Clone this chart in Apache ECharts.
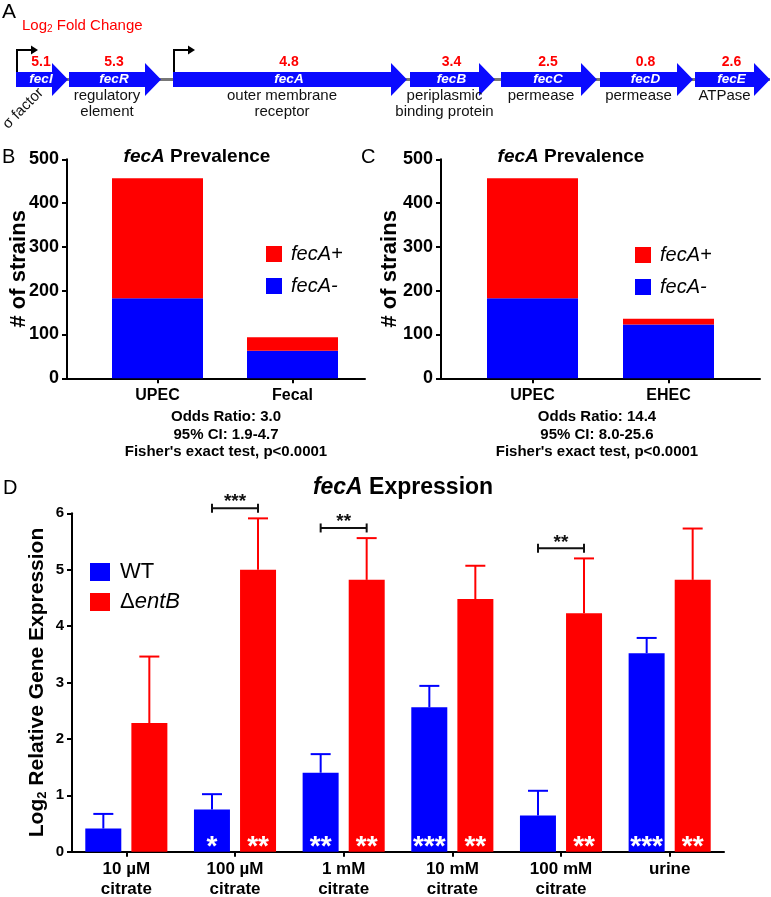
<!DOCTYPE html>
<html><head><meta charset="utf-8">
<script src="https://cdn.jsdelivr.net/npm/echarts@6/dist/echarts.min.js"></script>
<style>html,body{margin:0;padding:0;background:#fff}#c{width:771px;height:897px}</style>
</head><body><div id="c"></div>
<script>
// ---------- Panel A : fec operon ----------
const geneNames = ['fecI','fecR','fecA','fecB','fecC','fecD','fecE'];
const geneLog2FoldChange = [5.1, 5.3, 4.8, 3.4, 2.5, 0.8, 2.6];
const geneFunctions = ['σ factor','regulatory\nelement','outer membrane\nreceptor','periplasmic\nbinding protein','permease','permease','ATPase'];
const geneStartBp = [160, 690, 1730, 4100, 5010, 6000, 6950];
const geneEndBp   = [680, 1610, 4070, 4950, 5970, 6930, 7700];
const promoterBp = [160, 1730];

// ---------- Panel B / C : prevalence ----------
const prevCategoriesB = ['UPEC','Fecal'];
const fecANegB = [183, 63];
const fecAPosB = [274, 31];
const prevCategoriesC = ['UPEC','EHEC'];
const fecANegC = [183, 123];
const fecAPosC = [274, 13];
const prevTicks = [0, 100, 200, 300, 400, 500];
const statsB = ['Odds Ratio: 3.0', '95% CI: 1.9-4.7', "Fisher's exact test, p<0.0001"];
const statsC = ['Odds Ratio: 14.4', '95% CI: 8.0-25.6', "Fisher's exact test, p<0.0001"];

// ---------- Panel D : fecA expression ----------
const exprCategories = ['10 µM\ncitrate','100 µM\ncitrate','1 mM\ncitrate','10 mM\ncitrate','100 mM\ncitrate','urine'];
const wtMean   = [0.41, 0.75, 1.40, 2.56, 0.64, 3.52];
const wtSD     = [0.26, 0.27, 0.33, 0.38, 0.44, 0.27];
const entBMean = [2.28, 5.00, 4.82, 4.48, 4.23, 4.82];
const entBSD   = [1.18, 0.91, 0.74, 0.59, 0.97, 0.91];
const wtStars   = ['', '*', '**', '***', '', '***'];
const entBStars = ['', '**', '**', '**', '**', '**'];
const bracketCategories = [1, 2, 4];
const bracketStars = ['***', '**', '**'];
const exprTicks = [0, 1, 2, 3, 4, 5, 6];

const FF = "'Liberation Sans', Arial, sans-serif";
const BLUE = '#0000ff', RED = '#ff0000', ARROW = '#0a0aff';
const f = (w, s, st) => (st ? st + ' ' : '') + w + ' ' + s + 'px ' + FF;

const chart = echarts.init(document.getElementById('c'), null, {renderer: 'canvas'});

function geneRender(params, api) {
  const i = params.dataIndex;
  const s = api.coord([api.value(0), 0.5]);
  const e = api.coord([api.value(1), 0.5]);
  const cy = s[1], x0 = s[0], x1 = e[0];
  const hl = 16, bh = 7.5, hh = 16.5, xb = x1 - hl;
  const ch = [
    {type: 'polygon', shape: {points: [[x0, cy - bh], [xb, cy - bh], [xb, cy - hh], [x1, cy], [xb, cy + hh], [xb, cy + bh], [x0, cy + bh]]}, style: {fill: ARROW}},
    {type: 'text', x: (x0 + x1) / 2 - 1, y: cy, style: {text: geneNames[i], fill: '#fff', font: f('bold', 13.5, 'italic'), align: 'center', verticalAlign: 'middle', textAlign: 'center', textVerticalAlign: 'middle'}},
    {type: 'text', x: (x0 + x1) / 2 - 1, y: cy - 17.5, style: {text: geneLog2FoldChange[i].toFixed(1), fill: RED, font: f('bold', 14), align: 'center', verticalAlign: 'middle', textAlign: 'center', textVerticalAlign: 'middle'}}
  ];
  if (i === 0) {
    ch.push({type: 'text', x: x0 + 7, y: cy + 29, rotation: Math.PI / 4, style: {text: geneFunctions[i], fill: '#111', font: f('normal', 15), align: 'center', verticalAlign: 'middle', textAlign: 'center', textVerticalAlign: 'middle'}});
  } else {
    ch.push({type: 'text', x: (x0 + xb) / 2, y: cy + 8, style: {text: geneFunctions[i], fill: '#111', font: f('normal', 15), lineHeight: 16.5, align: 'center', verticalAlign: 'top', textAlign: 'center', textVerticalAlign: 'top'}});
  }
  return {type: 'group', children: ch};
}

function promoterRender(params, api) {
  const p = api.coord([api.value(0), 0.5]);
  const x = p[0] + 1, yb = p[1] - 7.5, yt = p[1] - 29.5;
  return {type: 'group', children: [
    {type: 'polyline', shape: {points: [[x, yb], [x, yt], [x + 15, yt]]}, style: {stroke: '#000', lineWidth: 2, fill: null}},
    {type: 'polygon', shape: {points: [[x + 14, yt - 4.5], [x + 21, yt], [x + 14, yt + 4.5]]}, style: {fill: '#000'}}
  ]};
}

function backboneRender(params, api) {
  const s = api.coord([api.value(0), 0.5]);
  const e = api.coord([api.value(1), 0.5]);
  return {type: 'line', shape: {x1: s[0], y1: s[1], x2: e[0], y2: e[1]}, style: {stroke: '#777', lineWidth: 3}};
}

function errRender(dx, color) {
  return function (params, api) {
    const i = api.value(0), m = api.value(1), sd = api.value(2);
    const p0 = api.coord([i, m]);
    const p1 = api.coord([i, m + sd]);
    const x = p0[0] + dx;
    return {type: 'group', children: [
      {type: 'line', shape: {x1: x, y1: p0[1], x2: x, y2: p1[1]}, style: {stroke: color, lineWidth: 2}},
      {type: 'line', shape: {x1: x - 10, y1: p1[1], x2: x + 10, y2: p1[1]}, style: {stroke: color, lineWidth: 2}}
    ]};
  };
}

function bracketRender(params, api) {
  const i = params.dataIndex;
  const c = api.value(0), lvl = api.value(1);
  const p = api.coord([c, lvl]);
  const x1 = p[0] - 23, x2 = p[0] + 23, y = p[1];
  const st = {stroke: '#111', lineWidth: 2};
  return {type: 'group', children: [
    {type: 'line', shape: {x1: x1, y1: y, x2: x2, y2: y}, style: st},
    {type: 'line', shape: {x1: x1, y1: y - 4.5, x2: x1, y2: y + 4.5}, style: st},
    {type: 'line', shape: {x1: x2, y1: y - 4.5, x2: x2, y2: y + 4.5}, style: st},
    {type: 'text', x: p[0], y: y - 6, style: {text: bracketStars[i], fill: '#111', font: f('bold', 19), align: 'center', verticalAlign: 'middle', textAlign: 'center', textVerticalAlign: 'middle'}}
  ]};
}

const axisLineStyle = {show: true, lineStyle: {color: '#000', width: 2}};
const tickStyle = {show: true, length: 5, lineStyle: {color: '#000', width: 2}};

function prevY(grid, offset, nameGap) {
  return {
    type: 'value', gridIndex: grid, min: prevTicks[0], max: prevTicks[prevTicks.length - 1], interval: prevTicks[1] - prevTicks[0],
    offset: offset, axisLine: axisLineStyle, axisTick: tickStyle, splitLine: {show: false},
    axisLabel: {color: '#000', fontSize: 18, fontWeight: 'bold', fontFamily: FF, margin: 8},
    name: '# of strains', nameLocation: 'middle', nameGap: nameGap, nameMoveOverlap: false,
    nameTextStyle: {color: '#000', fontSize: 22, fontWeight: 'bold', fontFamily: FF}
  };
}
function prevX(grid, cats) {
  return {
    type: 'category', gridIndex: grid, data: cats, axisLine: axisLineStyle,
    axisTick: Object.assign({alignWithLabel: true}, tickStyle),
    axisLabel: {color: '#000', fontSize: 16, fontWeight: 'bold', fontFamily: FF, margin: 9}
  };
}
function extX(grid) {
  return {type: 'value', gridIndex: grid, min: 0, max: 1, axisLine: axisLineStyle, axisTick: {show: false}, axisLabel: {show: false}, splitLine: {show: false}};
}
function extY(grid) {
  return {type: 'value', gridIndex: grid, min: 0, max: 1, show: false};
}
function prevLegend(left, top) {
  return {
    data: ['fecA+', 'fecA-'], left: left, top: top, orient: 'vertical', icon: 'rect', padding: 0,
    itemWidth: 16, itemHeight: 16, itemGap: 12, selectedMode: false,
    textStyle: {color: '#000', fontSize: 20, fontStyle: 'italic', fontFamily: FF, padding: [0, 0, 0, 4]}
  };
}
function textEl(x, y, text, font, align, color) {
  return {type: 'text', x: x, y: y, style: {text: text, font: font, fill: color || '#000', align: align || 'left', textAlign: align || 'left', verticalAlign: 'middle', textVerticalAlign: 'middle'}};
}
const titleRich = (size) => ({
  i: {fontSize: size, fontWeight: 'bold', fontStyle: 'italic', fontFamily: FF, fill: '#000'},
  b: {fontSize: size, fontWeight: 'bold', fontStyle: 'normal', fontFamily: FF, fill: '#000'}
});
const G = (o) => Object.assign({containLabel: false, outerBoundsMode: 'none'}, o);

const option = {
  animation: false,
  backgroundColor: '#fff',
  textStyle: {fontFamily: FF},
  grid: [
    G({left: 0, width: 771, top: 69.5, height: 20}),
    G({left: 90, width: 270, top: 159.3, height: 219}),
    G({left: 67, width: 298, top: 159.3, height: 219}),
    G({left: 464.5, width: 272, top: 159.3, height: 219}),
    G({left: 441, width: 319, top: 159.3, height: 219}),
    G({left: 72, width: 652, top: 513.3, height: 338.4})
  ],
  xAxis: [
    {type: 'value', gridIndex: 0, min: 0, max: 7710, show: false},
    prevX(1, prevCategoriesB),
    extX(2),
    prevX(3, prevCategoriesC),
    extX(4),
    {
      type: 'category', gridIndex: 5, data: exprCategories, axisLine: axisLineStyle,
      axisTick: Object.assign({alignWithLabel: true}, tickStyle),
      axisLabel: {color: '#000', fontSize: 17, fontWeight: 'bold', fontFamily: FF, margin: 8, lineHeight: 20, interval: 0}
    }
  ],
  yAxis: [
    {type: 'value', gridIndex: 0, min: 0, max: 1, show: false},
    prevY(1, 23, 37),
    extY(2),
    prevY(3, 23.5, 40),
    extY(4),
    {
      type: 'value', gridIndex: 5, min: exprTicks[0], max: exprTicks[exprTicks.length - 1], interval: exprTicks[1] - exprTicks[0],
      axisLine: axisLineStyle, axisTick: tickStyle, splitLine: {show: false},
      axisLabel: {color: '#000', fontSize: 15, fontWeight: 'bold', fontFamily: FF, margin: 8},
      name: '{a|Log}{s|2}{a| Relative Gene Expression}', nameLocation: 'middle', nameGap: 23, nameMoveOverlap: false,
      nameTextStyle: {
        color: '#000', fontSize: 21, fontWeight: 'bold', fontFamily: FF,
        rich: {
          a: {fontSize: 21, fontWeight: 'bold', fontFamily: FF, color: '#000', lineHeight: 24},
          s: {fontSize: 13, fontWeight: 'bold', fontFamily: FF, color: '#000', lineHeight: 4, verticalAlign: 'bottom'}
        }
      }
    }
  ],
  legend: [
    prevLegend(266, 244),
    prevLegend(635, 245),
    {
      data: ['WT', 'ΔentB'], left: 90, top: 561, orient: 'vertical', icon: 'rect', padding: 0,
      itemWidth: 20, itemHeight: 18, itemGap: 8, selectedMode: false,
      formatter: (n) => n === 'ΔentB' ? '{n|Δ}{i|entB}' : '{n|' + n + '}',
      textStyle: {
        color: '#000', fontSize: 22, fontFamily: FF, padding: [0, 0, 0, 5],
        rich: {
          n: {fontSize: 22, fontFamily: FF, color: '#000', fontStyle: 'normal'},
          i: {fontSize: 22, fontFamily: FF, color: '#000', fontStyle: 'italic'}
        }
      }
    }
  ],
  series: [
    {type: 'custom', name: 'backbone', xAxisIndex: 0, yAxisIndex: 0, z: 1, renderItem: backboneRender,
      data: [[geneStartBp[0], geneEndBp[geneEndBp.length - 1]]], encode: {x: [0, 1]}},
    {type: 'custom', name: 'genes', xAxisIndex: 0, yAxisIndex: 0, z: 2, renderItem: geneRender,
      data: geneNames.map((g, i) => [geneStartBp[i], geneEndBp[i]]), encode: {x: [0, 1]}},
    {type: 'custom', name: 'promoters', xAxisIndex: 0, yAxisIndex: 0, z: 3, renderItem: promoterRender,
      data: promoterBp.map(p => [p]), encode: {x: 0}},

    {type: 'bar', name: 'fecA-', xAxisIndex: 1, yAxisIndex: 1, stack: 'B', data: fecANegB, barWidth: 91, itemStyle: {color: BLUE}},
    {type: 'bar', name: 'fecA+', xAxisIndex: 1, yAxisIndex: 1, stack: 'B', data: fecAPosB, barWidth: 91, itemStyle: {color: RED}},
    {type: 'bar', name: 'fecA-', xAxisIndex: 3, yAxisIndex: 3, stack: 'C', data: fecANegC, barWidth: 91, itemStyle: {color: BLUE}},
    {type: 'bar', name: 'fecA+', xAxisIndex: 3, yAxisIndex: 3, stack: 'C', data: fecAPosC, barWidth: 91, itemStyle: {color: RED}},

    {type: 'bar', name: 'WT', xAxisIndex: 5, yAxisIndex: 5, data: wtMean, barWidth: 36, barGap: '28%', itemStyle: {color: BLUE},
      label: {show: true, position: 'insideBottom', distance: 0, offset: [0, 10], formatter: p => wtStars[p.dataIndex], color: '#fff', fontSize: 28, fontWeight: 'bold', fontFamily: FF}},
    {type: 'bar', name: 'ΔentB', xAxisIndex: 5, yAxisIndex: 5, data: entBMean, barWidth: 36, barGap: '28%', itemStyle: {color: RED},
      label: {show: true, position: 'insideBottom', distance: 0, offset: [0, 10], formatter: p => entBStars[p.dataIndex], color: '#fff', fontSize: 28, fontWeight: 'bold', fontFamily: FF}},
    {type: 'custom', name: 'WT SD', xAxisIndex: 5, yAxisIndex: 5, clip: false, z: 3, renderItem: errRender(-23, BLUE),
      data: wtMean.map((m, i) => [i, m, wtSD[i]]), encode: {x: 0, y: 1}},
    {type: 'custom', name: 'ΔentB SD', xAxisIndex: 5, yAxisIndex: 5, clip: false, z: 3, renderItem: errRender(23, RED),
      data: entBMean.map((m, i) => [i, m, entBSD[i]]), encode: {x: 0, y: 1}},
    {type: 'custom', name: 'brackets', xAxisIndex: 5, yAxisIndex: 5, clip: false, z: 4, renderItem: bracketRender,
      data: bracketCategories.map(c => [c, entBMean[c] + entBSD[c] + 0.18]), encode: {x: 0, y: 1}}
  ],
  graphic: [
    textEl(2, 12, 'A', f('normal', 21)),
    {type: 'text', x: 22, y: 26, style: {text: '{a|Log}{s|2}{a| Fold Change}', fill: RED, font: f('normal', 15), verticalAlign: 'middle', textVerticalAlign: 'middle',
      rich: {a: {fontSize: 15, fontFamily: FF, fontWeight: 'normal', fill: RED, lineHeight: 17}, s: {fontSize: 10, fontFamily: FF, fontWeight: 'normal', fill: RED, lineHeight: 3, verticalAlign: 'bottom'}}}},
    textEl(2, 157, 'B', f('normal', 20)),
    textEl(361, 157, 'C', f('normal', 20)),
    textEl(3, 488, 'D', f('normal', 20)),
    {type: 'text', x: 197, y: 157, style: {text: '{i|fecA}{b| Prevalence}', font: f('bold', 19), align: 'center', textAlign: 'center', verticalAlign: 'middle', textVerticalAlign: 'middle', rich: titleRich(19)}},
    {type: 'text', x: 571, y: 157, style: {text: '{i|fecA}{b| Prevalence}', font: f('bold', 19), align: 'center', textAlign: 'center', verticalAlign: 'middle', textVerticalAlign: 'middle', rich: titleRich(19)}},
    {type: 'text', x: 403, y: 488, style: {text: '{i|fecA}{b| Expression}', font: f('bold', 23), align: 'center', textAlign: 'center', verticalAlign: 'middle', textVerticalAlign: 'middle', rich: titleRich(23)}},
    textEl(226, 417, statsB[0], f('bold', 15), 'center'),
    textEl(226, 435, statsB[1], f('bold', 15), 'center'),
    textEl(226, 452, statsB[2], f('bold', 15), 'center'),
    textEl(597, 417, statsC[0], f('bold', 15), 'center'),
    textEl(597, 435, statsC[1], f('bold', 15), 'center'),
    textEl(597, 452, statsC[2], f('bold', 15), 'center')
  ]
};
chart.setOption(option);
</script>
</body></html>
